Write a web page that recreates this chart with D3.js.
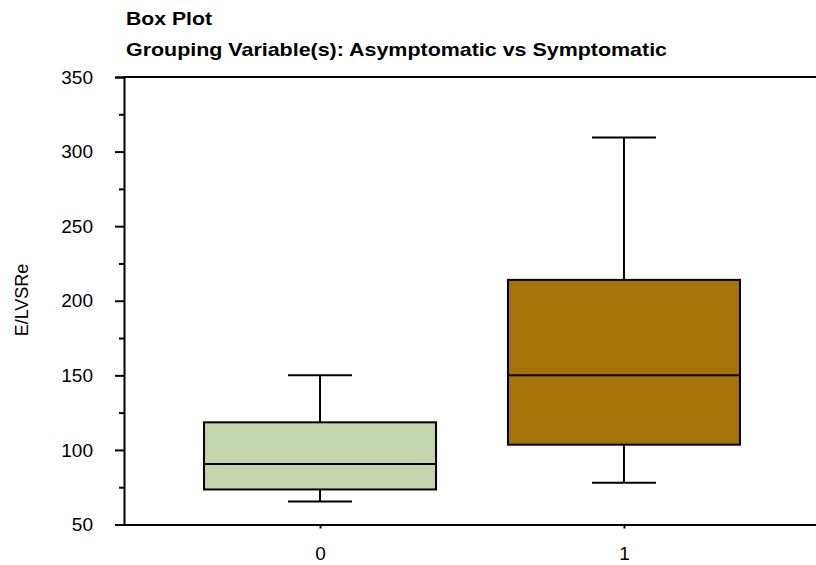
<!DOCTYPE html>
<html>
<head>
<meta charset="utf-8">
<script src="https://cdn.jsdelivr.net/npm/d3@7"></script>
<style>
  body { margin: 0; background: #fff; }
  svg { display: block; font-family: Arial, "Liberation Sans", sans-serif; }
</style>
</head>
<body>
<div id="chart"></div>
<script>
// groups and their box statistics
var groups = ["0", "1"];
var whiskerLow = [65.5, 78];
var q1 = [73.5, 103.5];
var median = [90.5, 150];
var q3 = [118.5, 214];
var whiskerHigh = [150, 309.5];
var boxColors = ["#c5d5ae", "#a6730a"];

var yTicks = [50, 100, 150, 200, 250, 300, 350];
var yMinorTicks = [75, 125, 175, 225, 275, 325];

var width = 816, height = 565;
var margin = {top: 77, right: -4, bottom: 40, left: 124};

var svg = d3.select("#chart")
  .append("svg")
  .attr("width", width)
  .attr("height", height);

var x = d3.scalePoint()
  .domain(groups)
  .range([margin.left, width - margin.right])
  .padding(0.645);

var y = d3.scaleLinear()
  .domain([50, 350])
  .range([height - margin.bottom - 0.5, margin.top]);

var boxWidth = 232, capWidth = 64;

var data = groups.map(function(g, i) {
  return {g: g, lo: whiskerLow[i], q1: q1[i], med: median[i], q3: q3[i], hi: whiskerHigh[i], color: boxColors[i]};
});

// titles (the reference text is a bit stretched sideways)
svg.append("text").attr("x", 126).attr("y", 25)
  .attr("textLength", 86).attr("lengthAdjust", "spacingAndGlyphs")
  .style("font-size", "19px").style("font-weight", "bold").text("Box Plot");
svg.append("text").attr("x", 126).attr("y", 56)
  .attr("textLength", 541).attr("lengthAdjust", "spacingAndGlyphs")
  .style("font-size", "19px").style("font-weight", "bold")
  .text("Grouping Variable(s): Asymptomatic vs Symptomatic");

// top frame line
svg.append("line")
  .attr("x1", margin.left).attr("x2", width)
  .attr("y1", y(350)).attr("y2", y(350))
  .attr("stroke", "#000").attr("stroke-width", 2);

// y axis
var yAxis = d3.axisLeft(y).tickValues(yTicks).tickSize(9).tickPadding(22);
svg.append("g").attr("class", "y axis")
  .attr("transform", "translate(" + margin.left + ",0)")
  .call(yAxis)
  .call(function(g) {
    g.select(".domain").attr("stroke-width", 2);
    g.selectAll(".tick line").attr("stroke-width", 2);
    g.selectAll("text").style("font-size", "19px").style("font-family", "Arial, 'Liberation Sans', sans-serif");
  });

svg.append("g").attr("class", "y minor")
  .attr("transform", "translate(" + margin.left + ",0)")
  .call(d3.axisLeft(y).tickValues(yMinorTicks).tickSize(5).tickFormat(""))
  .call(function(g) {
    g.select(".domain").remove();
    g.selectAll(".tick line").attr("stroke-width", 2);
  });

// x axis
var xAxis = d3.axisBottom(x).tickSize(4).tickPadding(18).tickSizeOuter(0);
svg.append("g").attr("class", "x axis")
  .attr("transform", "translate(0," + y(50) + ")")
  .call(xAxis)
  .call(function(g) {
    g.select(".domain").attr("stroke-width", 2);
    g.selectAll(".tick line").attr("stroke-width", 2);
    g.selectAll("text").style("font-size", "19px").style("font-family", "Arial, 'Liberation Sans', sans-serif");
  });

// y label
svg.append("text")
  .attr("transform", "translate(28," + 300 + ") rotate(-90)")
  .attr("text-anchor", "middle")
  .style("font-size", "18px")
  .text("E/LVSRe");

// boxes
var box = svg.selectAll(".box")
  .data(data)
  .enter()
  .append("g")
  .attr("class", "box");

box.append("line")
  .attr("x1", function(d) { return x(d.g) })
  .attr("x2", function(d) { return x(d.g) })
  .attr("y1", function(d) { return y(d.hi) })
  .attr("y2", function(d) { return y(d.lo) })
  .attr("stroke", "#000").attr("stroke-width", 2);

box.selectAll(".cap")
  .data(function(d) { return [{g: d.g, v: d.hi}, {g: d.g, v: d.lo}] })
  .enter()
  .append("line")
  .attr("class", "cap")
  .attr("x1", function(d) { return x(d.g) - capWidth / 2 })
  .attr("x2", function(d) { return x(d.g) + capWidth / 2 })
  .attr("y1", function(d) { return y(d.v) })
  .attr("y2", function(d) { return y(d.v) })
  .attr("stroke", "#000").attr("stroke-width", 2);

box.append("rect")
  .attr("x", function(d) { return x(d.g) - boxWidth / 2 })
  .attr("y", function(d) { return y(d.q3) })
  .attr("width", boxWidth)
  .attr("height", function(d) { return y(d.q1) - y(d.q3) })
  .attr("fill", function(d) { return d.color })
  .attr("stroke", "#000").attr("stroke-width", 2);

box.append("line")
  .attr("x1", function(d) { return x(d.g) - boxWidth / 2 })
  .attr("x2", function(d) { return x(d.g) + boxWidth / 2 })
  .attr("y1", function(d) { return y(d.med) })
  .attr("y2", function(d) { return y(d.med) })
  .attr("stroke", "#000").attr("stroke-width", 2);
</script>
</body>
</html>
